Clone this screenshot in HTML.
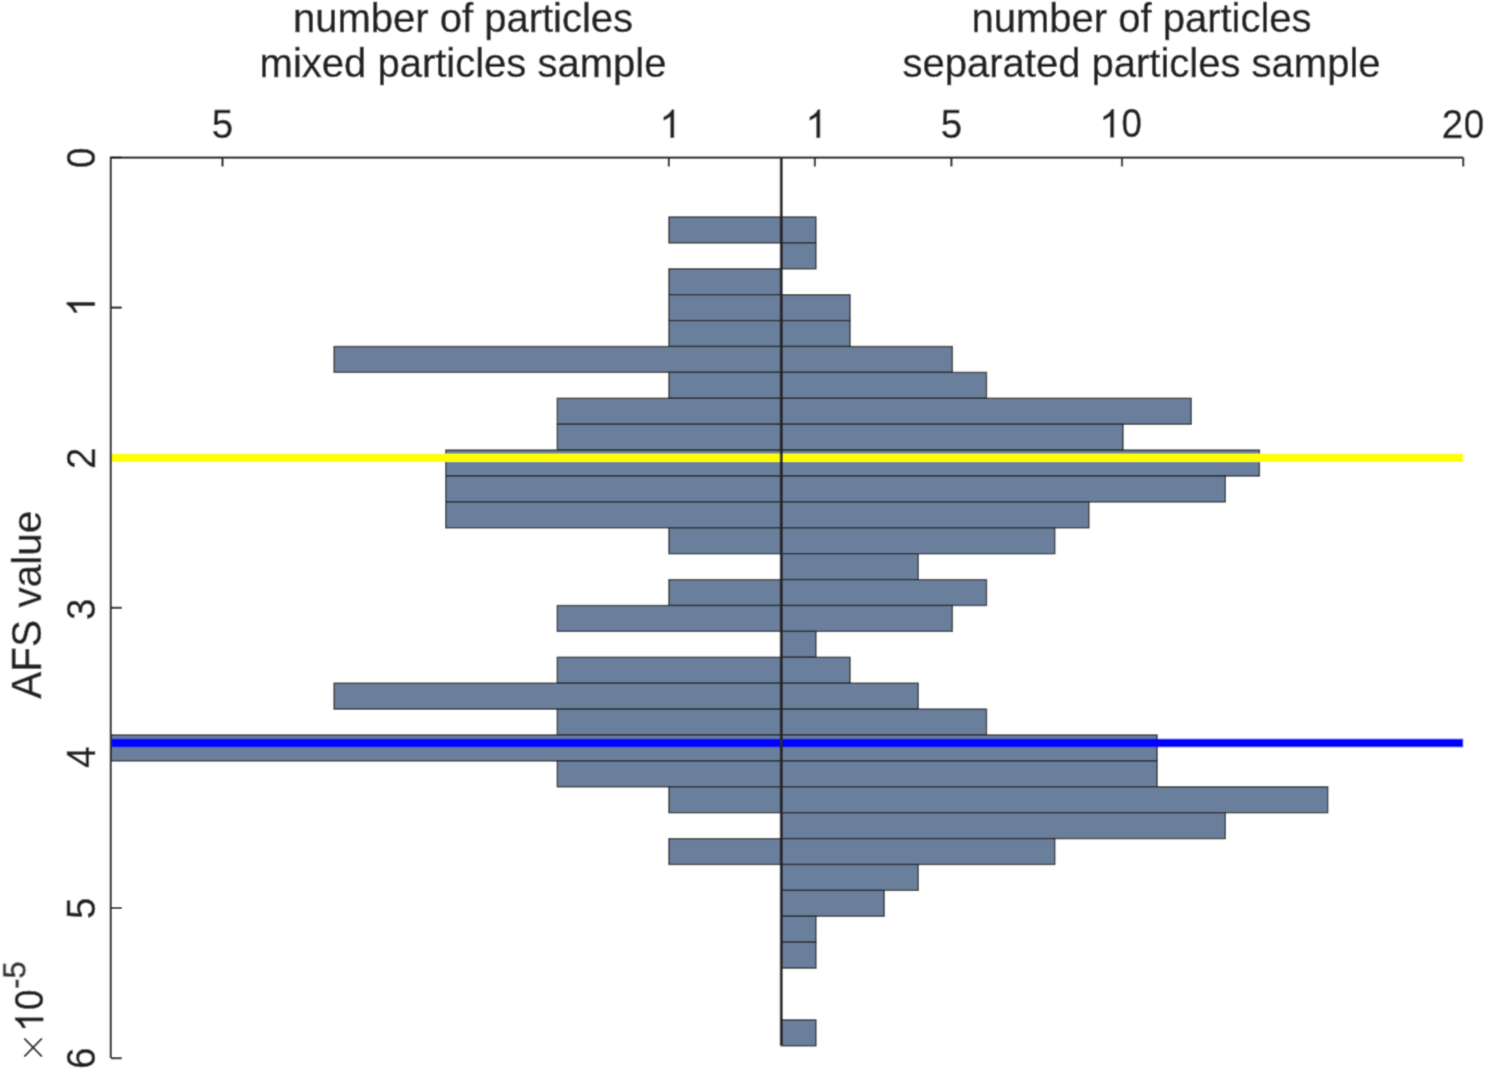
<!DOCTYPE html>
<html><head><meta charset="utf-8"><style>
html,body{margin:0;padding:0;background:#fff;}
body{width:1485px;height:1071px;overflow:hidden;}
svg{display:block;}
text{font-family:"Liberation Sans",sans-serif;}
</style></head><body>
<svg width="1485" height="1071" viewBox="0 0 1485 1071">
<defs><filter id="bl" x="0" y="0" width="1485" height="1071" filterUnits="userSpaceOnUse"><feConvolveMatrix order="3" kernelMatrix="0.02768 0.11101 0.02768 0.11101 0.44521 0.11101 0.02768 0.11101 0.02768" edgeMode="duplicate" preserveAlpha="true"/></filter><clipPath id="ax"><rect x="110.80" y="157.60" width="1352.40" height="900.48"/></clipPath></defs>
<g filter="url(#bl)">
<rect width="1485" height="1071" fill="#fff"/>
<path d="M222.50 157.60V166.60M668.90 157.60V166.60M814.92 157.60V166.60M951.40 157.60V166.60M1122.00 157.60V166.60M1463.20 157.60V166.60M110.80 157.60H121.80M110.80 307.68H121.80M110.80 457.76H121.80M110.80 607.84H121.80M110.80 757.92H121.80M110.80 908.00H121.80M110.80 1058.08H121.80" stroke="#262626" stroke-width="2.2" fill="none"/>
<g clip-path="url(#ax)" fill="#6a7f9b" stroke="#262626" stroke-width="1.3">
<rect x="668.90" y="217.00" width="112.40" height="25.90"/><rect x="668.90" y="268.80" width="112.40" height="25.90"/><rect x="668.90" y="294.70" width="112.40" height="25.90"/><rect x="668.90" y="320.60" width="112.40" height="25.90"/><rect x="334.10" y="346.50" width="447.20" height="25.90"/><rect x="668.90" y="372.40" width="112.40" height="25.90"/><rect x="557.30" y="398.30" width="224.00" height="25.90"/><rect x="557.30" y="424.20" width="224.00" height="25.90"/><rect x="445.70" y="450.10" width="335.60" height="25.90"/><rect x="445.70" y="476.00" width="335.60" height="25.90"/><rect x="445.70" y="501.90" width="335.60" height="25.90"/><rect x="668.90" y="527.80" width="112.40" height="25.90"/><rect x="668.90" y="579.60" width="112.40" height="25.90"/><rect x="557.30" y="605.50" width="224.00" height="25.90"/><rect x="557.30" y="657.30" width="224.00" height="25.90"/><rect x="334.10" y="683.20" width="447.20" height="25.90"/><rect x="557.30" y="709.10" width="224.00" height="25.90"/><rect x="105.80" y="735.00" width="675.50" height="25.90"/><rect x="557.30" y="760.90" width="224.00" height="25.90"/><rect x="668.90" y="786.80" width="112.40" height="25.90"/><rect x="668.90" y="838.60" width="112.40" height="25.90"/><rect x="781.30" y="217.00" width="34.62" height="25.90"/><rect x="781.30" y="242.90" width="34.62" height="25.90"/><rect x="781.30" y="294.70" width="68.74" height="25.90"/><rect x="781.30" y="320.60" width="68.74" height="25.90"/><rect x="781.30" y="346.50" width="171.10" height="25.90"/><rect x="781.30" y="372.40" width="205.22" height="25.90"/><rect x="781.30" y="398.30" width="409.94" height="25.90"/><rect x="781.30" y="424.20" width="341.70" height="25.90"/><rect x="781.30" y="450.10" width="478.18" height="25.90"/><rect x="781.30" y="476.00" width="444.06" height="25.90"/><rect x="781.30" y="501.90" width="307.58" height="25.90"/><rect x="781.30" y="527.80" width="273.46" height="25.90"/><rect x="781.30" y="553.70" width="136.98" height="25.90"/><rect x="781.30" y="579.60" width="205.22" height="25.90"/><rect x="781.30" y="605.50" width="171.10" height="25.90"/><rect x="781.30" y="631.40" width="34.62" height="25.90"/><rect x="781.30" y="657.30" width="68.74" height="25.90"/><rect x="781.30" y="683.20" width="136.98" height="25.90"/><rect x="781.30" y="709.10" width="205.22" height="25.90"/><rect x="781.30" y="735.00" width="375.82" height="25.90"/><rect x="781.30" y="760.90" width="375.82" height="25.90"/><rect x="781.30" y="786.80" width="546.42" height="25.90"/><rect x="781.30" y="812.70" width="444.06" height="25.90"/><rect x="781.30" y="838.60" width="273.46" height="25.90"/><rect x="781.30" y="864.50" width="136.98" height="25.90"/><rect x="781.30" y="890.40" width="102.86" height="25.90"/><rect x="781.30" y="916.30" width="34.62" height="25.90"/><rect x="781.30" y="942.20" width="34.62" height="25.90"/><rect x="781.30" y="1019.90" width="34.62" height="25.90"/>
</g>
<path d="M110.80 457.7H1463.20" stroke="#ffff00" stroke-width="8.4"/>
<path d="M110.80 743.0H1463.20" stroke="#0000ff" stroke-width="8.4"/>
<path d="M781.30 157.60V1045.5" stroke="#262626" stroke-width="3.0"/>
<path d="M110.80 1058.08V157.60H1463.20" stroke="#262626" stroke-width="2.2" fill="none"/>
<g fill="#222222" stroke="#222222" stroke-width="0.45">
<g transform="translate(222.50 137.7) scale(1 1.04)"><text x="-10.70" y="0" font-size="38.6" transform="translate(0.00 0) scale(1.0 1) translate(-0.00 0)">5</text></g><g transform="translate(668.90 137.7) scale(1 1.04)"><path d="M763 0L583 0L583 1100Q518 1040 412.5 980Q307 920 223 890L223 1060Q374 1128 487 1228Q600 1332 647 1430L763 1430Z" vector-effect="non-scaling-stroke" transform="translate(-9.29 0) scale(0.01885 -0.01885)"/></g><g transform="translate(814.92 137.7) scale(1 1.04)"><path d="M763 0L583 0L583 1100Q518 1040 412.5 980Q307 920 223 890L223 1060Q374 1128 487 1228Q600 1332 647 1430L763 1430Z" vector-effect="non-scaling-stroke" transform="translate(-9.29 0) scale(0.01885 -0.01885)"/></g><g transform="translate(951.40 137.7) scale(1 1.04)"><text x="-10.70" y="0" font-size="38.6" transform="translate(0.00 0) scale(1.0 1) translate(-0.00 0)">5</text></g><g transform="translate(1122.00 137.3) scale(1 1.04)"><path d="M763 0L583 0L583 1100Q518 1040 412.5 980Q307 920 223 890L223 1060Q374 1128 487 1228Q600 1332 647 1430L763 1430Z" vector-effect="non-scaling-stroke" transform="translate(-22.58 0) scale(0.01885 -0.01885)"/><text x="-1.12" y="0" font-size="38.6" transform="translate(9.62 0) scale(0.95 1) translate(-9.62 0)">0</text></g><g transform="translate(1463.20 137.5) scale(1 1.04)"><text x="-21.45" y="0" font-size="38.6" transform="translate(-10.72 0) scale(1.0 1) translate(10.72 0)">2</text><text x="0.01" y="0" font-size="38.6" transform="translate(10.75 0) scale(0.95 1) translate(-10.75 0)">0</text></g><g transform="translate(94.8 157.80) rotate(-90) scale(1 1.04)"><text x="-10.73" y="0" font-size="38.6" transform="translate(0.00 0) scale(0.95 1) translate(-0.00 0)">0</text></g><g transform="translate(94.8 307.38) rotate(-90) scale(1 1.04)"><path d="M763 0L583 0L583 1100Q518 1040 412.5 980Q307 920 223 890L223 1060Q374 1128 487 1228Q600 1332 647 1430L763 1430Z" vector-effect="non-scaling-stroke" transform="translate(-9.29 0) scale(0.01885 -0.01885)"/></g><g transform="translate(94.8 458.36) rotate(-90) scale(1 1.04)"><text x="-10.73" y="0" font-size="38.6" transform="translate(0.00 0) scale(1.0 1) translate(-0.00 0)">2</text></g><g transform="translate(94.8 609.44) rotate(-90) scale(1 1.04)"><text x="-10.62" y="0" font-size="38.6" transform="translate(0.00 0) scale(1.0 1) translate(-0.00 0)">3</text></g><g transform="translate(94.8 757.52) rotate(-90) scale(1 1.04)"><text x="-10.61" y="0" font-size="38.6" transform="translate(-0.00 0) scale(1.0 1) translate(0.00 0)">4</text></g><g transform="translate(94.8 908.30) rotate(-90) scale(1 1.04)"><text x="-10.70" y="0" font-size="38.6" transform="translate(0.00 0) scale(1.0 1) translate(-0.00 0)">5</text></g><g transform="translate(94.8 1058.08) rotate(-90) scale(1 1.04)"><text x="-10.87" y="0" font-size="38.6" transform="translate(0.00 0) scale(1.0 1) translate(-0.00 0)">6</text></g>
<g font-size="40" text-anchor="middle">
<text x="463.0" y="32">number of particles</text>
<text x="463.0" y="76.9">mixed particles sample</text>
<text x="1141.5" y="32">number of particles</text>
<text x="1141.5" y="76.9">separated particles sample</text>
<g transform="translate(40.6 605.0) rotate(-90)" font-size="40.5" text-anchor="start"><text x="-93.7" transform="scale(1 1.04)">AFS</text><text x="-2.48">value</text></g>
</g>
<path d="M24.8 1039.0L41.4 1056.0M24.8 1056.0L41.4 1039.0" stroke="#333" stroke-width="2" stroke-linecap="round" fill="none"/>
<g transform="translate(43.2 1032.1) rotate(-90) scale(1 1.04)"><path d="M763 0L583 0L583 1100Q518 1040 412.5 980Q307 920 223 890L223 1060Q374 1128 487 1228Q600 1332 647 1430L763 1430Z" vector-effect="non-scaling-stroke" transform="translate(0.00 0) scale(0.01885 -0.01885)"/><text x="21.47" y="0" font-size="38.6" transform="translate(32.20 0) scale(0.95 1) translate(-32.20 0)">0</text></g>
<text transform="translate(25.4 988.8) rotate(-90)" font-size="31">-5</text>
</g>
</g>
</svg>
</body></html>
